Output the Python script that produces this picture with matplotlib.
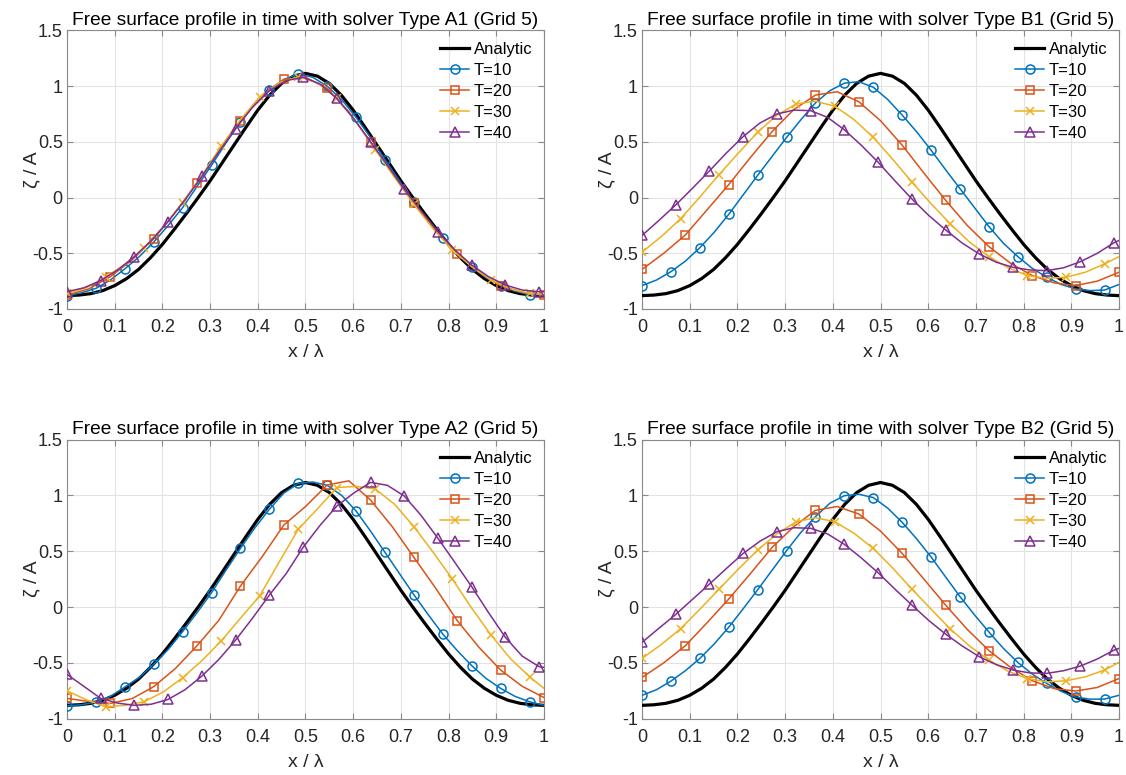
import numpy as np
import matplotlib
matplotlib.use('Agg')
import matplotlib.pyplot as plt

plt.rcParams['font.family'] = ['Liberation Sans', 'DejaVu Sans']
plt.rcParams['axes.unicode_minus'] = False

BLUE = '#0072BD'; RED = '#D95319'; YEL = '#EDB120'; PURP = '#7E2F8E'

# sample positions (x / lambda) for each series
x_an = np.linspace(0, 1, 41)
x10 = np.linspace(0, 1, 34)
x20 = np.linspace(0, 1, 23)
x30 = np.append(np.linspace(0, 96 / 99, 25), 1.0)
x40 = np.append(np.linspace(0, 98 / 99, 29), 1.0)

analytic = [-0.88, -0.875, -0.862, -0.835, -0.79, -0.727, -0.645, -0.54, -0.42, -0.285,
            -0.145, 0.0, 0.15, 0.31, 0.47, 0.63, 0.785, 0.92, 1.025, 1.09, 1.115,
            1.09, 1.025, 0.92, 0.785, 0.63, 0.47, 0.31, 0.15, 0.0, -0.145, -0.285,
            -0.42, -0.54, -0.645, -0.727, -0.79, -0.835, -0.862, -0.875, -0.88]

# ---- Type A1 ----
a1_t10 = [-0.88, -0.855, -0.815, -0.74, -0.64, -0.53, -0.40, -0.25, -0.09, 0.10, 0.29, 0.49,
          0.68, 0.85, 0.97, 1.06, 1.11, 1.08, 1.00, 0.88, 0.72, 0.54, 0.34, 0.15, -0.04,
          -0.21, -0.36, -0.50, -0.62, -0.72, -0.79, -0.84, -0.87, -0.875]
a1_t20 = [-0.875, -0.82, -0.71, -0.56, -0.37, -0.13, 0.13, 0.42, 0.69, 0.91, 1.06, 1.08,
          0.98, 0.77, 0.50, 0.22, -0.05, -0.30, -0.51, -0.67, -0.79, -0.85, -0.875]
a1_t30 = [-0.86, -0.81, -0.715, -0.60, -0.45, -0.26, -0.045, 0.20, 0.46, 0.70, 0.90, 1.03,
          1.085, 1.03, 0.89, 0.68, 0.43, 0.18, -0.06, -0.28, -0.47, -0.62, -0.74, -0.82,
          -0.86, -0.87]
a1_t40 = [-0.845, -0.81, -0.745, -0.65, -0.53, -0.385, -0.215, -0.02, 0.19, 0.41, 0.62,
          0.81, 0.96, 1.05, 1.08, 1.02, 0.89, 0.71, 0.50, 0.29, 0.075, -0.12, -0.305,
          -0.47, -0.605, -0.71, -0.785, -0.83, -0.845, -0.845]

# ---- Type B1 ----
b1_t10 = [-0.79, -0.74, -0.665, -0.57, -0.45, -0.31, -0.15, 0.025, 0.20, 0.37, 0.54, 0.70,
          0.85, 0.96, 1.027, 1.04, 0.99, 0.88, 0.74, 0.59, 0.425, 0.25, 0.08, -0.09, -0.26,
          -0.41, -0.53, -0.635, -0.715, -0.78, -0.82, -0.835, -0.83, -0.78]
b1_t20 = [-0.645, -0.50, -0.335, -0.11, 0.117, 0.36, 0.593, 0.79, 0.92, 0.95, 0.86, 0.69,
          0.47, 0.22, -0.024, -0.25, -0.44, -0.59, -0.70, -0.765, -0.79, -0.75, -0.67]
b1_t30 = [-0.49, -0.35, -0.19, 0.005, 0.207, 0.40, 0.587, 0.74, 0.84, 0.865, 0.82, 0.70,
          0.54, 0.345, 0.14, -0.055, -0.237, -0.40, -0.53, -0.63, -0.70, -0.725, -0.715,
          -0.67, -0.595, -0.53]
b1_t40 = [-0.34, -0.205, -0.066, 0.085, 0.24, 0.40, 0.548, 0.67, 0.75, 0.785, 0.78, 0.72,
          0.608, 0.47, 0.317, 0.15, -0.012, -0.16, -0.29, -0.41, -0.506, -0.58, -0.626,
          -0.65, -0.656, -0.63, -0.575, -0.50, -0.404, -0.385]

# ---- Type A2 ----
a2_t10 = [-0.884, -0.875, -0.85, -0.80, -0.716, -0.63, -0.513, -0.38, -0.22, -0.05, 0.128,
          0.33, 0.525, 0.71, 0.875, 1.02, 1.107, 1.12, 1.09, 1.00, 0.86, 0.68, 0.49, 0.30,
          0.11, -0.07, -0.242, -0.39, -0.525, -0.64, -0.728, -0.80, -0.848, -0.88]
a2_t20 = [-0.818, -0.845, -0.863, -0.82, -0.713, -0.55, -0.346, -0.12, 0.188, 0.45, 0.734,
          0.90, 1.093, 1.13, 0.958, 0.72, 0.445, 0.17, -0.122, -0.36, -0.564, -0.71, -0.81]
a2_t30 = [-0.75, -0.83, -0.893, -0.88, -0.848, -0.76, -0.633, -0.48, -0.304, -0.10, 0.10,
          0.40, 0.696, 0.88, 1.07, 1.08, 1.057, 0.92, 0.72, 0.49, 0.25, -0.01, -0.25, -0.46,
          -0.624, -0.728]
a2_t40 = [-0.603, -0.71, -0.818, -0.86, -0.88, -0.87, -0.827, -0.74, -0.618, -0.47, -0.296,
          -0.10, 0.107, 0.30, 0.534, 0.73, 0.904, 1.02, 1.116, 1.09, 0.994, 0.82, 0.615,
          0.40, 0.182, -0.05, -0.272, -0.44, -0.534, -0.54]

# ---- Type B2 ----
b2_t10 = [-0.79, -0.74, -0.663, -0.57, -0.46, -0.33, -0.18, -0.015, 0.155, 0.33, 0.505,
          0.67, 0.81, 0.93, 0.997, 1.01, 0.98, 0.885, 0.758, 0.61, 0.448, 0.27, 0.093,
          -0.07, -0.224, -0.37, -0.496, -0.60, -0.684, -0.755, -0.806, -0.825, -0.824, -0.79]
b2_t20 = [-0.63, -0.50, -0.346, -0.14, 0.072, 0.30, 0.534, 0.72, 0.866, 0.90, 0.833, 0.68,
          0.48, 0.25, 0.018, -0.20, -0.39, -0.54, -0.66, -0.73, -0.752, -0.72, -0.64]
b2_t30 = [-0.46, -0.335, -0.194, -0.02, 0.161, 0.34, 0.51, 0.655, 0.764, 0.80, 0.764, 0.66,
          0.525, 0.35, 0.161, -0.02, -0.197, -0.35, -0.475, -0.575, -0.64, -0.67, -0.66,
          -0.625, -0.564, -0.495]
b2_t40 = [-0.316, -0.19, -0.066, 0.07, 0.206, 0.345, 0.48, 0.59, 0.675, 0.71, 0.705, 0.655,
          0.561, 0.44, 0.307, 0.16, 0.018, -0.12, -0.242, -0.35, -0.445, -0.515, -0.564,
          -0.59, -0.594, -0.57, -0.528, -0.465, -0.385, -0.37]

panels = [
    ('A1', [0.0595, 0.6013, 0.4236, 0.3594], a1_t10, a1_t20, a1_t30, a1_t40),
    ('B1', [0.5702, 0.6013, 0.4236, 0.3594], b1_t10, b1_t20, b1_t30, b1_t40),
    ('A2', [0.0595, 0.0726, 0.4236, 0.3603], a2_t10, a2_t20, a2_t30, a2_t40),
    ('B2', [0.5702, 0.0726, 0.4236, 0.3603], b2_t10, b2_t20, b2_t30, b2_t40),
]

fig = plt.figure(figsize=(11.26, 7.75), dpi=100)
for name, pos, t10, t20, t30, t40 in panels:
    ax = fig.add_axes(pos)
    ax.plot(x_an, analytic, color='k', lw=2.3, label='Analytic', zorder=3)
    ax.plot(x10, t10, '-o', color=BLUE, lw=1.1, ms=6.5, mfc='none', mew=1.1,
            markevery=2, label='T=10', zorder=4)
    ax.plot(x20, t20, '-s', color=RED, lw=1.1, ms=6, mfc='none', mew=1.1,
            markevery=2, label='T=20', zorder=4)
    ax.plot(x30, t30, '-x', color=YEL, lw=1.1, ms=5.5, mew=1.1,
            markevery=2, label='T=30', zorder=4)
    ax.plot(x40, t40, '-^', color=PURP, lw=1.1, ms=7, mfc='none', mew=1.1,
            markevery=2, label='T=40', zorder=4)
    ax.set_xlim(0, 1); ax.set_ylim(-1, 1.5)
    ax.set_xticks(np.arange(0, 1.01, 0.1))
    ax.set_xticklabels(['0', '0.1', '0.2', '0.3', '0.4', '0.5', '0.6', '0.7', '0.8', '0.9', '1'])
    ax.set_yticks([-1, -0.5, 0, 0.5, 1, 1.5])
    ax.set_yticklabels(['-1', '-0.5', '0', '0.5', '1', '1.5'])
    ax.tick_params(direction='in', length=4, color='#8a8a8a', labelcolor='#262626',
                   labelsize=13, top=True, right=True)
    ax.tick_params(axis='x', pad=7.5)
    ax.tick_params(axis='y', pad=3)
    for s in ax.spines.values():
        s.set_color('#8a8a8a'); s.set_linewidth(0.8)
    ax.grid(color='#e3e3e3', lw=0.8)
    ax.set_axisbelow(True)
    ax.set_title('Free surface profile in time with solver Type %s (Grid 5)' % name,
                 fontsize=13.8, pad=4, color='k')
    ax.set_xlabel('x / λ', fontsize=14, color='#262626')
    ax.set_ylabel('ζ / A', fontsize=14, color='#262626')
    ax.xaxis.set_label_coords(0.5, -0.125)
    ax.yaxis.set_label_coords(-0.057, 0.5)
    ax.legend(loc='upper right', frameon=False, fontsize=12, handlelength=1.7,
              handletextpad=0.3, labelspacing=0.36, borderaxespad=0.3)

fig.savefig('out.png', dpi=100)
